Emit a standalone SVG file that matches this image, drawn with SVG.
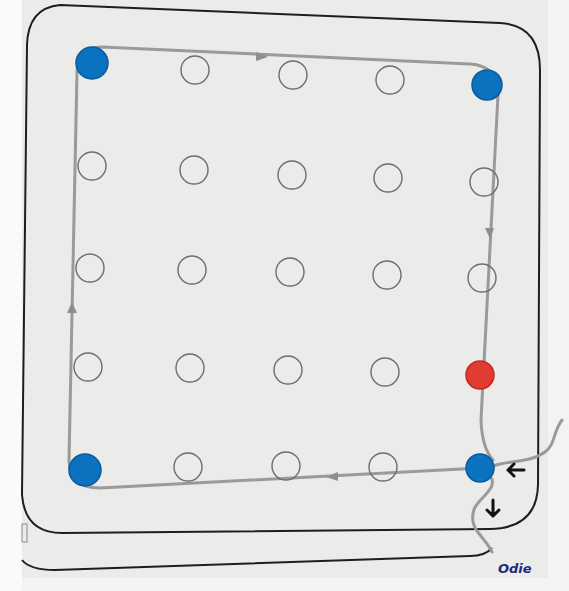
<svg xmlns="http://www.w3.org/2000/svg" width="569" height="591" viewBox="0 0 569 591">
<defs>
<style>
.ring{fill:none;stroke:#6e6e6e;stroke-width:1.4}
.blue{fill:#0b72c0;stroke:#0a5a9c;stroke-width:1.5}
.red{fill:#e23b33;stroke:#c22a25;stroke-width:1.5}
.route{fill:none;stroke:#9a9a9a;stroke-width:3;stroke-linecap:round;stroke-linejoin:round}
.frame{fill:none;stroke:#1e1e1e;stroke-width:2}
.arr{fill:#8e8e8e}
.blk{fill:none;stroke:#111;stroke-width:3;stroke-linecap:round;stroke-linejoin:round}
</style>
</defs>
<rect width="569" height="591" fill="#f3f3f1"/>
<rect x="22" y="0" width="526" height="578" fill="#ebebe9"/>
<rect x="0" y="0" width="22" height="591" fill="#fafafa"/>
<rect x="22" y="524" width="5" height="18" fill="none" stroke="#888" stroke-width="1"/>
<g id="frame">
<path class="frame" d="M 60,5 L 500,23 Q 540,25 540,70 L 538,485 Q 537,528 490,529 L 62,533 Q 25,533 22,495 L 27,45 Q 28,8 60,5"/>
<path class="frame" d="M 22,560 Q 30,570 55,570 L 470,556 Q 485,556 492,548"/>
</g>
<g id="connectors">
<path class="route" d="M 480,468 L 100,488 Q 69,488 69,460 L 77,72 Q 77,47 102,47 L 470,64 Q 497,65 498,95 L 481,420 Q 482,448 493,460"/>
<path class="route" d="M 493,466 C 510,460 530,463 545,452 C 555,445 553,432 562,420"/>
<path class="route" d="M 490,476 C 498,486 484,495 478,503 C 470,512 472,524 477,531 C 483,539 489,545 492,552"/>
<path class="arr" d="M 268,57 L 256,52 L 256,61 Z"/>
<path class="arr" d="M 490,239 L 485,228 L 494,228 Z"/>
<path class="arr" d="M 326,477 L 338,472 L 338,481 Z"/>
<path class="arr" d="M 72,302 L 67,313 L 77,313 Z"/>
</g>
<g id="row1">
<circle id="n11" class="blue" cx="92" cy="63" r="16"/>
<circle id="n12" class="ring" cx="195" cy="70" r="14"/>
<circle id="n13" class="ring" cx="293" cy="75" r="14"/>
<circle id="n14" class="ring" cx="390" cy="80" r="14"/>
<circle id="n15" class="blue" cx="487" cy="85" r="15"/>
</g>
<g id="row2">
<circle id="n21" class="ring" cx="92" cy="166" r="14"/>
<circle id="n22" class="ring" cx="194" cy="170" r="14"/>
<circle id="n23" class="ring" cx="292" cy="175" r="14"/>
<circle id="n24" class="ring" cx="388" cy="178" r="14"/>
<circle id="n25" class="ring" cx="484" cy="182" r="14"/>
</g>
<g id="row3">
<circle id="n31" class="ring" cx="90" cy="268" r="14"/>
<circle id="n32" class="ring" cx="192" cy="270" r="14"/>
<circle id="n33" class="ring" cx="290" cy="272" r="14"/>
<circle id="n34" class="ring" cx="387" cy="275" r="14"/>
<circle id="n35" class="ring" cx="482" cy="278" r="14"/>
</g>
<g id="row4">
<circle id="n41" class="ring" cx="88" cy="367" r="14"/>
<circle id="n42" class="ring" cx="190" cy="368" r="14"/>
<circle id="n43" class="ring" cx="288" cy="370" r="14"/>
<circle id="n44" class="ring" cx="385" cy="372" r="14"/>
<circle id="n45" class="red" cx="480" cy="375" r="14"/>
</g>
<g id="row5">
<circle id="n51" class="blue" cx="85" cy="470" r="16"/>
<circle id="n52" class="ring" cx="188" cy="467" r="14"/>
<circle id="n53" class="ring" cx="286" cy="466" r="14"/>
<circle id="n54" class="ring" cx="383" cy="467" r="14"/>
<circle id="n55" class="blue" cx="480" cy="468" r="14"/>
</g>
<g id="arrow-left">
<path class="blk" d="M 524,470 L 508,470 M 514,464 L 508,470 L 514,476"/>
</g>
<g id="arrow-down">
<path class="blk" d="M 493,500 L 493,516 M 487,510 L 493,516 L 499,510"/>
</g>
<g id="signature">
<text x="498" y="573" font-family="DejaVu Sans, sans-serif" font-size="13" font-weight="bold" font-style="italic" fill="#1c2a80">Odie</text>
</g>
</svg>
